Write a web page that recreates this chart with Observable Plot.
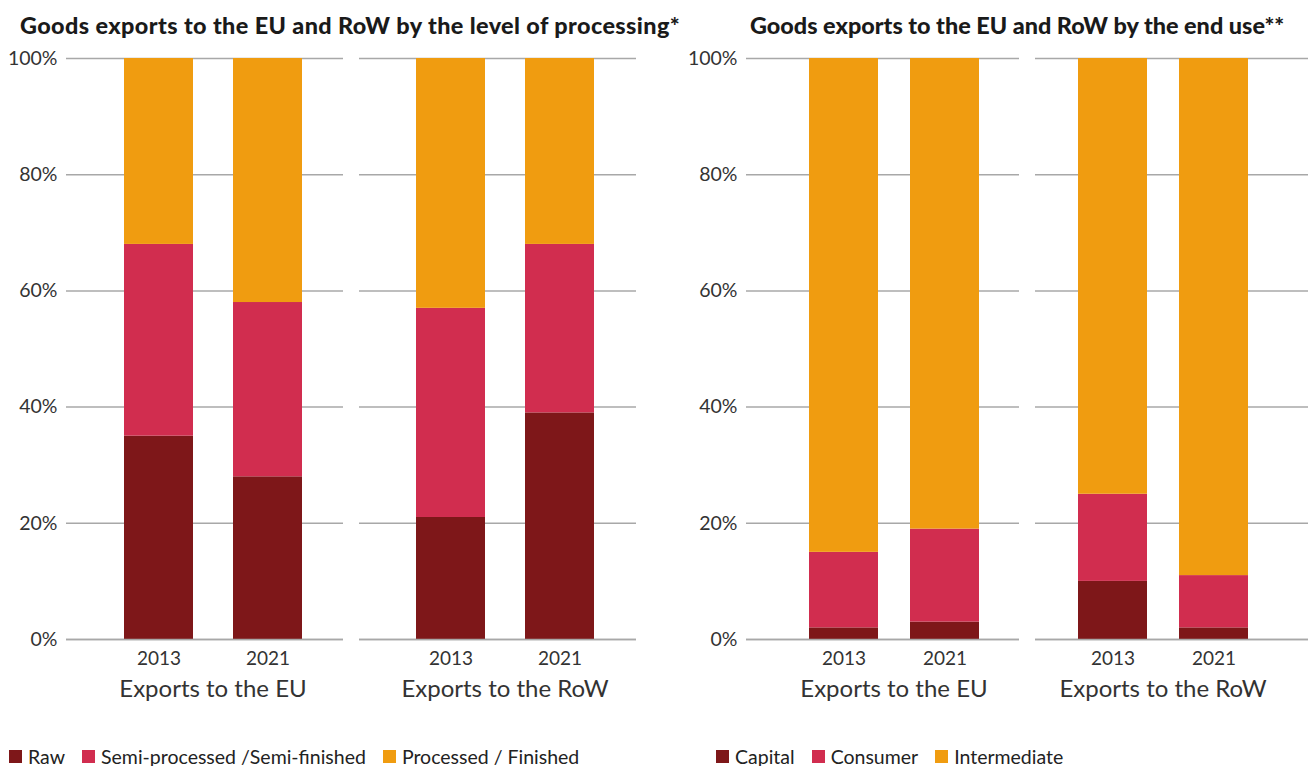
<!DOCTYPE html>
<html>
<head>
<meta charset="utf-8">
<script src="https://cdn.jsdelivr.net/npm/d3@7"></script>
<script src="https://cdn.jsdelivr.net/npm/@observablehq/plot@0.6"></script>
<style>
  body { margin: 0; background: #fff; font-family: Lato, "Open Sans", sans-serif; color: #222; }
  #wrap { position: relative; width: 1309px; height: 766px; overflow: hidden; }
  .title { position: absolute; top: 10px; font-weight: 900; font-size: 23.4px; line-height: 30px; color: #1a1a1a; white-space: nowrap; }
  .chart { position: absolute; top: 38px; }
  .legend { position: absolute; top: 746px; font-size: 19.5px; line-height: 20px; color: #222; white-space: nowrap; }
  .legend span.item { display: inline-flex; align-items: center; margin-right: 17px; }
  .legend span.sw { display: inline-block; width: 13px; height: 13px; margin-right: 6px; }
</style>
</head>
<body>
<div id="wrap">
  <div class="title" style="left:20px; letter-spacing:0.4px">Goods exports to the EU and RoW by the level of processing*</div>
  <div class="title" style="left:750px">Goods exports to the EU and RoW by the end use**</div>
  <div class="chart" id="left" style="left:0px"></div>
  <div class="chart" id="right" style="left:680px"></div>
  <div class="legend" id="legL" style="left:9px"></div>
  <div class="legend" id="legR" style="left:716px"></div>
</div>
<script>
// ---- data ----
const years = ["2013", "2021"];
const destinations = ["Exports to the EU", "Exports to the RoW"];
// order of bars: EU 2013, EU 2021, RoW 2013, RoW 2021
const processingCategories = ["Raw", "Semi-processed /Semi-finished", "Processed / Finished"];
const processingRaw = [35, 28, 21, 39];
const processingSemi = [33, 30, 36, 29];
const processingFinished = [32, 42, 43, 32];

const endUseCategories = ["Capital", "Consumer", "Intermediate"];
const endUseCapital = [2, 3, 10, 2];
const endUseConsumer = [13, 16, 15, 9];
const endUseIntermediate = [85, 81, 75, 89];

const yTicks = [0, 20, 40, 60, 80, 100];
const palette = ["#7e1719", "#d12d4f", "#f09c10"];

function rows(cats, series) {
  const out = [];
  cats.forEach((c, ci) => {
    let i = 0;
    destinations.forEach(d => years.forEach(y => {
      out.push({dest: d, year: y, cat: c, value: series[ci][i]});
      i++;
    }));
  });
  return out;
}

const yearRows = destinations.flatMap(d => years.map(y => ({dest: d, year: y})));
const destRows = destinations.map(d => ({dest: d}));

function makeChart(data, cats, opts) {
  const perFacet = destinations.flatMap((dest, i) => [
    Plot.barY(data.filter(r => r.dest === dest), {fx: "dest", x: "year", y: "value", fill: "cat", order: cats, dx: opts.dx[i]}),
    Plot.text(yearRows.filter(r => r.dest === dest), {fx: "dest", x: "year", text: "year", frameAnchor: "bottom", dy: 25, dx: opts.dx[i], fontSize: 19, fill: "#333"}),
    Plot.text(destRows.filter(r => r.dest === dest), {fx: "dest", text: "dest", frameAnchor: "bottom", dy: 57, dx: opts.dx[i], fontSize: 24, fill: "#333"})
  ]);
  return Plot.plot({
    width: opts.width,
    height: 680,
    marginTop: 20,
    marginBottom: 79,
    marginLeft: 66,
    marginRight: opts.marginRight,
    style: {fontFamily: "Lato, sans-serif", fontSize: "19px", color: "#333", background: "transparent", overflow: "visible"},
    y: {domain: [0, 100], label: null, axis: null},
    x: {domain: years, label: null, axis: null, paddingInner: opts.pi, paddingOuter: opts.po, align: 0.5},
    fx: {domain: destinations, label: null, axis: null, paddingInner: opts.fxp, paddingOuter: 0},
    color: {domain: cats, range: palette},
    marks: [
      Plot.gridY(yTicks, {stroke: "#a8a8a8", strokeOpacity: 1, strokeWidth: 1.5}),
      ...perFacet,
      Plot.ruleY([0], {stroke: "#a8a8a8", strokeWidth: 1.5}),
      Plot.axisY(yTicks, {tickSize: 0, tickPadding: 9, tickFormat: d => d + "%", label: null, fontSize: 19.5, fill: "#333"})
    ]
  });
}

const procData = rows(processingCategories, [processingRaw, processingSemi, processingFinished]);
const endData = rows(endUseCategories, [endUseCapital, endUseConsumer, endUseIntermediate]);

document.getElementById("left").appendChild(
  makeChart(procData, processingCategories, {width: 680, marginRight: 43, pi: 0.367, po: 0.45, fxp: 0.0545, dx: [8, 7]})
);
document.getElementById("right").appendChild(
  makeChart(endData, endUseCategories, {width: 629, marginRight: 0, pi: 0.32, po: 0.5, fxp: 0.0553, dx: [11, -9]})
);

function legend(el, cats) {
  el.innerHTML = cats.map((c, i) =>
    `<span class="item"><span class="sw" style="background:${palette[i]}"></span>${c}</span>`).join("");
}
legend(document.getElementById("legL"), processingCategories);
legend(document.getElementById("legR"), endUseCategories);
</script>
</body>
</html>
